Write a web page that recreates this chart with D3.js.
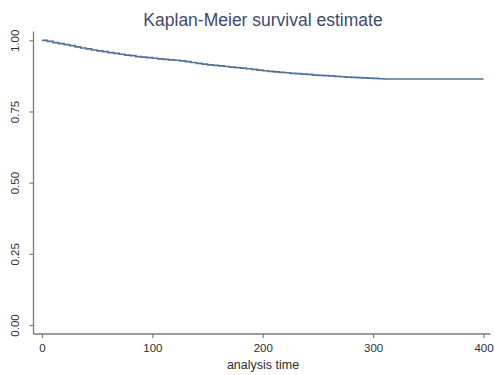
<!DOCTYPE html>
<html>
<head>
<meta charset="utf-8">
<script src="https://cdn.jsdelivr.net/npm/d3@7"></script>
<style>
  html, body { margin: 0; padding: 0; background: #fff; }
  svg { display: block; font-family: "Liberation Sans", Arial, sans-serif; }
</style>
</head>
<body>
<svg id="chart" width="495" height="375"></svg>
<script>
// Kaplan-Meier survival estimate
const times    = [0, 5, 10, 15, 20, 25, 30, 35, 40, 45, 50, 55, 60, 65, 70, 75, 80, 85, 90, 95,
                  100, 105, 110, 115, 120, 125, 130, 135, 140, 145, 150, 155, 160, 165, 170, 175, 180, 185, 190, 195,
                  200, 205, 210, 215, 220, 225, 230, 235, 240, 245, 250, 255, 260, 265, 270, 275, 280, 285, 290, 295,
                  300, 305, 310, 400];
const survival = [1.000, 0.996, 0.992, 0.988, 0.985, 0.981, 0.977, 0.973, 0.970, 0.966, 0.963, 0.960, 0.957, 0.954, 0.951, 0.948, 0.946, 0.943, 0.941, 0.939,
                  0.937, 0.935, 0.933, 0.931, 0.930, 0.928, 0.925, 0.922, 0.919, 0.916, 0.914, 0.912, 0.910, 0.908, 0.906, 0.904, 0.902, 0.900, 0.898, 0.895,
                  0.893, 0.891, 0.889, 0.887, 0.886, 0.884, 0.883, 0.881, 0.880, 0.878, 0.877, 0.876, 0.875, 0.873, 0.872, 0.871, 0.870, 0.869, 0.868, 0.867,
                  0.866, 0.865, 0.864, 0.864];
const xTicks = [0, 100, 200, 300, 400];
const yTicks = [0, 0.25, 0.5, 0.75, 1];
const titleText = "Kaplan-Meier survival estimate";
const xTitle = "analysis time";

const svg = d3.select("#chart");
const x = d3.scaleLinear().domain([0, 400]).range([42, 483.5]);
const y = d3.scaleLinear().domain([0, 1]).range([325, 40.3]);

const axisColor = "#7a7a7a";
const textColor = "#2e2e2e";

// Y axis
const yAxis = svg.append("g").attr("transform", "translate(33.5,0)")
  .call(d3.axisLeft(y).tickValues(yTicks).tickFormat(d3.format(".2f")).tickSize(4).tickPadding(13));
yAxis.select(".domain").attr("d", `M0,${334}V${31.5}`).attr("stroke", axisColor).attr("stroke-width", 1.3);
yAxis.selectAll(".tick line").attr("stroke", axisColor).attr("stroke-width", 1.2);
yAxis.selectAll(".tick text")
  .attr("font-size", 11.5).attr("fill", textColor)
  .attr("text-anchor", "middle")
  .attr("x", 0).attr("y", 0)
  .attr("transform", "translate(-18.5,0) rotate(-90)")
  .attr("dy", "0.35em");

// X axis
const xAxis = svg.append("g").attr("transform", "translate(0,334)")
  .call(d3.axisBottom(x).tickValues(xTicks).tickFormat(d3.format("d")).tickSize(4).tickPadding(6));
xAxis.select(".domain").attr("d", `M33.5,0H490.5`).attr("stroke", axisColor).attr("stroke-width", 1.3);
xAxis.selectAll(".tick line").attr("stroke", axisColor).attr("stroke-width", 1.2);
xAxis.selectAll(".tick text").attr("font-size", 11.5).attr("fill", textColor);

// Axis title
svg.append("text").attr("x", 263).attr("y", 368.5)
  .attr("text-anchor", "middle").attr("font-size", 12.5).attr("fill", textColor)
  .text(xTitle);

// Title
svg.append("text").attr("x", 263).attr("y", 26)
  .attr("text-anchor", "middle").attr("font-size", 17.5).attr("fill", "#3d4a6d")
  .text(titleText);

// Survival step curve
const data = times.map((t, i) => ({t, s: survival[i]}));
const line = d3.line().x(d => x(d.t)).y(d => y(d.s)).curve(d3.curveStepAfter);
svg.append("path").datum(data)
  .attr("d", line)
  .attr("fill", "none")
  .attr("stroke", "#52719a")
  .attr("stroke-width", 1.7);
</script>
</body>
</html>
